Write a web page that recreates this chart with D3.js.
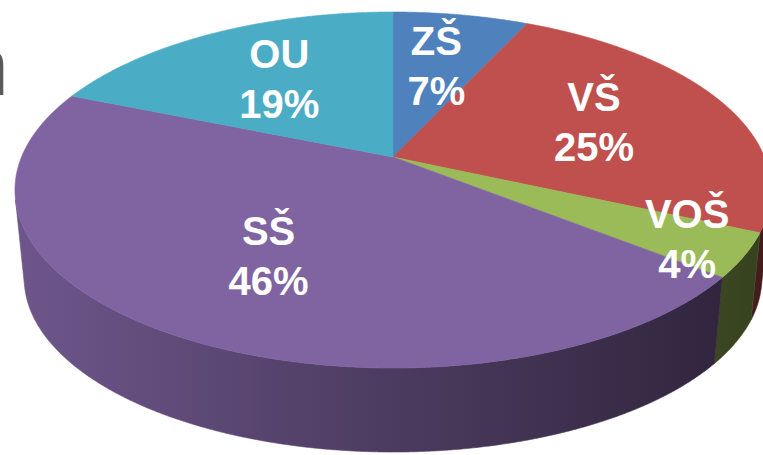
<!DOCTYPE html>
<html>
<head>
<meta charset="utf-8">
<script src="https://cdnjs.cloudflare.com/ajax/libs/d3/7.8.5/d3.min.js"></script>
<style>
body { margin: 0; background: #fff; overflow: hidden; }
</style>
</head>
<body>
<div id="chart-container"></div>
<script>
// chart data
var categories = ["ZŠ", "VŠ", "VOŠ", "SŠ", "OU"];
var shares = [7, 25, 4, 46, 19];
var colors = ["#4F81BD", "#C0504D", "#9BBB59", "#8064A2", "#4BACC6"];

var width = 763;
var height = 455;

// perspective view of the pie disk
var cx = 393, cy = 157;       // where the slices meet
var rx = 371.5, ry = 171.9;   // radii before perspective
var persp = 0.1854;           // far side shrinks, near side grows
var depth = 84;               // thickness at the front
var vanishY = 3800;           // verticals of the side converge here
var frontY = cy + ry / (1 - persp);
var sideScale = 1 - depth / (vanishY - frontY);

//angle (clockwise from 12 o'clock) and radius fraction -> screen point on top face
function project(a, r)
{
    var u = r * Math.sin(a);
    var w = r * Math.cos(a);
    var d = 1 + persp * w;
    return [cx + rx * u / d, cy - ry * w / d];
}

//same rim point on the bottom face
function lower(p)
{
    return [cx + sideScale * (p[0] - cx), vanishY - sideScale * (vanishY - p[1])];
}

//is the side wall at this angle turned toward us
function facing(a)
{
    var p = project(a, 1);
    var q = project(a + 0.001, 1);
    var tx = q[0] - p[0], ty = q[1] - p[1];
    return tx * (p[1] - vanishY) - ty * (p[0] - cx) > 0;
}

var svg = d3.select("#chart-container")
    .append("svg")
    .attr("width", width)
    .attr("height", height);

var defs = svg.append("defs");

var slices = d3.pie().sort(null).value(function(d) { return d; })(shares);

var line = d3.line();
var step = Math.PI / 720;

// side gradients, darker toward the right
slices.forEach(function(s, i) {
    var base = d3.rgb(colors[i]);
    var g = defs.append("linearGradient")
        .attr("id", "side" + i)
        .attr("gradientUnits", "userSpaceOnUse")
        .attr("x1", 0).attr("x2", width)
        .attr("y1", 0).attr("y2", 0);
    [[0, 0.87], [0.5, 0.6], [1, 0.35]].forEach(function(st) {
        g.append("stop")
            .attr("offset", st[0])
            .attr("stop-color", d3.rgb(base.r * st[1], base.g * st[1], base.b * st[1]).formatHex());
    });
});

// title fragment cut off at the left edge
svg.append("text")
    .attr("x", -38)
    .attr("y", 95)
    .style("font-family", "'Liberation Sans', Arial, sans-serif")
    .style("font-size", "84px")
    .style("fill", "#5a5a5a")
    .text("n");

// side walls
var sides = svg.append("g");
slices.forEach(function(s, i) {
    var runs = [];
    var cur = null;
    for (var a = s.startAngle; a <= s.endAngle + 1e-9; a += step)
    {
        var aa = Math.min(a, s.endAngle);
        if (facing(aa))
        {
            if (!cur) { cur = []; runs.push(cur); }
            cur.push(project(aa, 1));
        }
        else
        {
            cur = null;
        }
    }
    runs.forEach(function(run) {
        if (run.length < 2) return;
        var pts = run.concat(run.slice().reverse().map(lower));
        sides.append("path")
            .attr("d", line(pts) + "Z")
            .attr("fill", "url(#side" + i + ")")
            .attr("stroke", "url(#side" + i + ")")
            .attr("stroke-width", 0.6);
    });
});

// top faces
var tops = svg.append("g");
slices.forEach(function(s, i) {
    var pts = [[cx, cy]];
    for (var a = s.startAngle; a < s.endAngle; a += step)
        pts.push(project(a, 1));
    pts.push(project(s.endAngle, 1));
    tops.append("path")
        .attr("d", line(pts) + "Z")
        .attr("fill", colors[i])
        .attr("stroke", colors[i])
        .attr("stroke-width", 0.6);
});

// data labels: name and share
var total = d3.sum(shares);
var labels = svg.append("g")
    .style("font-family", "'Liberation Sans', Arial, sans-serif")
    .style("font-weight", "bold")
    .style("font-size", "40px")
    .style("fill", "#fff")
    .attr("text-anchor", "middle");

slices.forEach(function(s, i) {
    var mid = (s.startAngle + s.endAngle) / 2;
    var r = (shares[i] / total < 0.05) ? 0.85 : 0.6;
    var p = project(mid, r);
    var t = labels.append("text")
        .attr("x", p[0])
        .attr("y", p[1] - 11);
    t.append("tspan").attr("x", p[0]).text(categories[i]);
    t.append("tspan").attr("x", p[0]).attr("dy", 50).text(shares[i] + "%");
});
</script>
</body>
</html>
